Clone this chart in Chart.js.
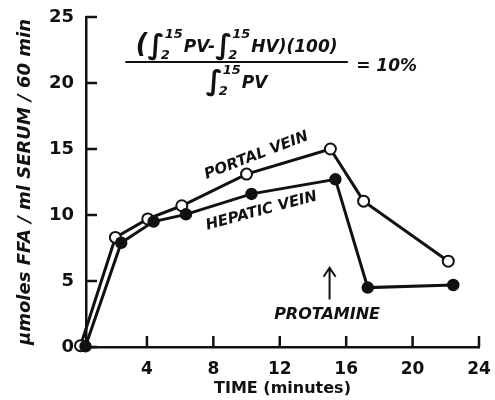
<!DOCTYPE html>
<html>
<head>
<meta charset="utf-8">
<script src="https://cdn.jsdelivr.net/npm/chart.js@4"></script>
<style>
  html, body { margin: 0; padding: 0; background: #fff; }
  #wrap { width: 495px; height: 400px; }
</style>
</head>
<body>
<div id="wrap"><canvas id="ffaChart"></canvas></div>
<script>
// 時間 (分) と FFA 値
const portalX = [0, 2.1, 4.05, 6.1, 10, 15.05, 17.05, 22.15];
const portalY = [0.1, 8.3, 9.7, 10.7, 13.1, 15.0, 11.05, 6.5];
const hepaticX = [0.3, 2.45, 4.4, 6.35, 10.3, 15.35, 17.3, 22.45];
const hepaticY = [0.05, 7.9, 9.5, 10.05, 11.6, 12.7, 4.5, 4.7];
const xTicks = [4, 8, 12, 16, 20, 24];
const yTicks = [0, 5, 10, 15, 20, 25];

const INK = '#111';
const HAND = '"DejaVu Sans", sans-serif';

function toPoints(xs, ys) {
  return xs.map((x, i) => ({ x: x, y: ys[i] }));
}

// 軸の内向き目盛りと注記を描く
const annotations = {
  id: 'annotations',
  afterDraw(chart) {
    const ctx = chart.ctx;
    const xs = chart.scales.x;
    const ys = chart.scales.y;
    const area = chart.chartArea;
    ctx.save();
    ctx.strokeStyle = INK;
    ctx.fillStyle = INK;
    ctx.lineWidth = 2.5;

    // 目盛り
    xTicks.forEach(v => {
      const px = xs.getPixelForValue(v);
      ctx.beginPath();
      ctx.moveTo(px, area.bottom);
      ctx.lineTo(px, area.bottom - 11);
      ctx.stroke();
    });
    yTicks.forEach(v => {
      const py = ys.getPixelForValue(v);
      ctx.beginPath();
      ctx.moveTo(area.left, py);
      ctx.lineTo(area.left + 11, py);
      ctx.stroke();
    });

    // ラベル
    drawRotated(ctx, 'PORTAL VEIN', xs.getPixelForValue(10.6), ys.getPixelForValue(14.5), -21, 15);
    drawRotated(ctx, 'HEPATIC VEIN', xs.getPixelForValue(10.9), ys.getPixelForValue(10.3), -15, 15);
    drawRotated(ctx, 'PROTAMINE', xs.getPixelForValue(14.85), ys.getPixelForValue(2.4), 0, 16);

    // 矢印
    const ax = xs.getPixelForValue(15.0);
    const aTop = ys.getPixelForValue(6.0);
    const aBot = ys.getPixelForValue(3.6);
    ctx.lineWidth = 2;
    ctx.beginPath();
    ctx.moveTo(ax, aBot);
    ctx.lineTo(ax, aTop);
    ctx.moveTo(ax - 6, aTop + 9);
    ctx.lineTo(ax, aTop);
    ctx.lineTo(ax + 6, aTop + 9);
    ctx.stroke();

    // 式
    const cx = xs.getPixelForValue(9.4);
    const lineY = ys.getPixelForValue(21.6);
    ctx.lineWidth = 2;
    ctx.beginPath();
    ctx.moveTo(xs.getPixelForValue(2.7), lineY);
    ctx.lineTo(xs.getPixelForValue(16.1), lineY);
    ctx.stroke();

    const num = [
      { t: '(', s: 26, dy: 0 },
      { t: '∫', s: 28, dy: 2 },
      { t: '15', s: 13, dy: -14, sub: '2' },
      { t: 'PV-', s: 17, dy: 0 },
      { t: '∫', s: 28, dy: 2 },
      { t: '15', s: 13, dy: -14, sub: '2' },
      { t: 'HV)(100)', s: 17, dy: 0 }
    ];
    drawFormula(ctx, num, cx, lineY - 10);
    const den = [
      { t: '∫', s: 28, dy: 2 },
      { t: '15', s: 13, dy: -14, sub: '2' },
      { t: 'PV', s: 17, dy: 0 }
    ];
    drawFormula(ctx, den, cx, lineY + 26);

    ctx.font = 'italic bold 17px ' + HAND;
    ctx.textAlign = 'left';
    ctx.textBaseline = 'middle';
    ctx.fillText('= 10%', xs.getPixelForValue(16.6), lineY + 5);

    ctx.restore();
  }
};

function drawRotated(ctx, text, x, y, deg, size) {
  ctx.save();
  ctx.translate(x, y);
  ctx.rotate(deg * Math.PI / 180);
  ctx.font = 'italic bold ' + size + 'px ' + HAND;
  ctx.textAlign = 'center';
  ctx.textBaseline = 'middle';
  ctx.fillText(text, 0, 0);
  ctx.restore();
}

function drawFormula(ctx, parts, cx, baseY) {
  ctx.textAlign = 'left';
  ctx.textBaseline = 'alphabetic';
  let total = 0;
  parts.forEach(p => {
    ctx.font = 'italic bold ' + p.s + 'px ' + HAND;
    p.w = ctx.measureText(p.t).width + (p.sub ? 1 : 0);
    total += p.w;
  });
  let x = cx - total / 2;
  parts.forEach(p => {
    ctx.font = 'italic bold ' + p.s + 'px ' + HAND;
    ctx.fillText(p.t, x, baseY + p.dy);
    if (p.sub) {
      ctx.fillText(p.sub, x - 4, baseY + 7);
    }
    x += p.w;
  });
}

new Chart(document.getElementById('ffaChart'), {
  type: 'line',
  data: {
    datasets: [
      {
        label: 'HEPATIC VEIN',
        data: toPoints(hepaticX, hepaticY),
        borderColor: INK,
        borderWidth: 3,
        pointRadius: 5.5,
        pointBackgroundColor: INK,
        pointBorderColor: INK,
        pointBorderWidth: 1.5,
        tension: 0
      },
      {
        label: 'PORTAL VEIN',
        data: toPoints(portalX, portalY),
        borderColor: INK,
        borderWidth: 3,
        pointRadius: 5.5,
        pointBackgroundColor: '#fff',
        pointBorderColor: INK,
        pointBorderWidth: 2,
        tension: 0
      }
    ]
  },
  options: {
    responsive: true,
    maintainAspectRatio: false,
    animation: false,
    clip: false,
    layout: { padding: { left: 15, right: 16, top: 17, bottom: 0 } },
    plugins: {
      legend: { display: false },
      tooltip: { enabled: false }
    },
    scales: {
      x: {
        type: 'linear',
        min: 0.33,
        max: 24,
        afterBuildTicks: scale => { scale.ticks = xTicks.map(v => ({ value: v })); },
        afterFit: scale => { scale.paddingLeft = 0; scale.paddingRight = 0; scale.height = 53; },
        grid: { display: false, drawTicks: false },
        border: { display: true, color: INK, width: 2.5 },
        ticks: {
          color: INK,
          padding: 12,
          maxRotation: 0,
          minRotation: 0,
          font: { family: HAND, size: 17, weight: 'bold' }
        },
        title: {
          display: true,
          text: 'TIME (minutes)',
          color: INK,
          padding: { top: 0, bottom: 2 },
          font: { family: HAND, size: 16, weight: 'bold' }
        }
      },
      y: {
        min: 0,
        max: 25,
        afterBuildTicks: scale => { scale.ticks = yTicks.map(v => ({ value: v })); },
        afterFit: scale => { scale.paddingTop = 0; scale.paddingBottom = 0; scale.width = 71; },
        grid: { display: false, drawTicks: false },
        border: { display: true, color: INK, width: 2.5 },
        ticks: {
          color: INK,
          padding: 12,
          font: { family: HAND, size: 18, weight: 'bold' }
        },
        title: {
          display: true,
          text: 'μmoles FFA / ml SERUM / 60 min',
          color: INK,
          padding: { top: 0, bottom: 3 },
          font: { family: HAND, size: 18, weight: 'bold', style: 'italic' }
        }
      }
    }
  },
  plugins: [annotations]
});
</script>
</body>
</html>
